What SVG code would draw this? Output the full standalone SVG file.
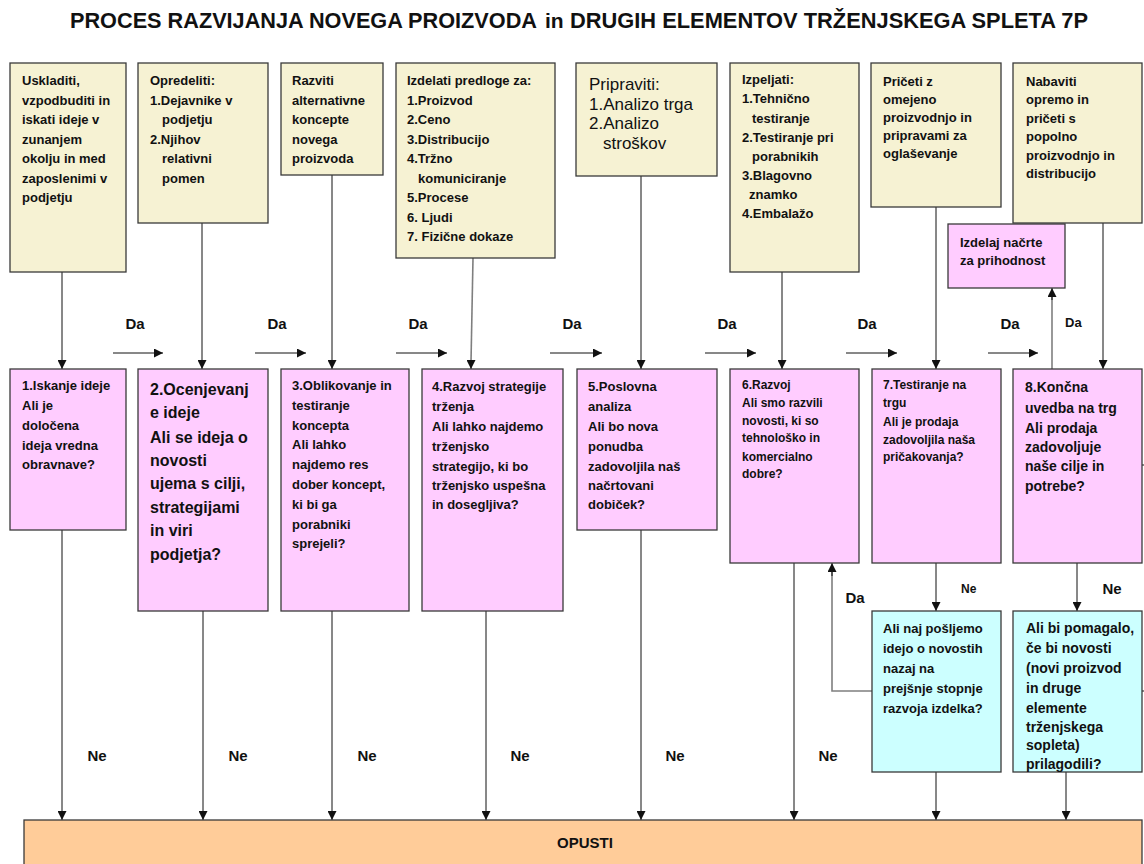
<svg xmlns="http://www.w3.org/2000/svg" width="1144" height="864" viewBox="0 0 1144 864">
<defs>
<marker id="arr" viewBox="0 0 10 10" refX="10" refY="5" markerWidth="9" markerHeight="9" markerUnits="userSpaceOnUse" orient="auto">
<path d="M0,0 L10,5 L0,10 z" fill="#111"/>
</marker>
</defs>
<style>
.top{fill:#F6F2D3;stroke:#3a3a3a;stroke-width:1.3}
.pink{fill:#FFCCFF;stroke:#3a3a3a;stroke-width:1.3}
.blue{fill:#CCFFFF;stroke:#3a3a3a;stroke-width:1.3}
.orange{fill:#FFCC99;stroke:#3a3a3a;stroke-width:1.3}
text{font-family:"Liberation Sans",Arial,Helvetica,sans-serif;font-weight:bold;fill:#111}
.s12{font-size:12px}
.s13{font-size:13px}
.s14{font-size:14px}
.s15{font-size:15px}
.s16{font-size:16px}
.s17{font-size:17px;font-weight:normal}
.lbl{font-size:15px;text-anchor:middle}
.c{stroke:#111;stroke-width:1;fill:none}
.g{stroke:#7f7f7f;stroke-width:1.6;fill:none}
</style>
<rect width="1144" height="864" fill="#ffffff"/>

<g id="title">
<text x="70" y="28" font-size="22" textLength="467" lengthAdjust="spacingAndGlyphs">PROCES RAZVIJANJA NOVEGA PROIZVODA</text>
<text x="545" y="28" font-size="21">in</text>
<text x="570" y="28" font-size="22" textLength="518" lengthAdjust="spacingAndGlyphs">DRUGIH ELEMENTOV TRŽENJSKEGA SPLETA 7P</text>
</g>

<g id="connectors">
<line class="c" x1="62" y1="272" x2="62" y2="369" marker-end="url(#arr)"/>
<line class="c" x1="202" y1="223" x2="202" y2="369" marker-end="url(#arr)"/>
<line class="c" x1="332" y1="175" x2="332" y2="369" marker-end="url(#arr)"/>
<line class="g" x1="473" y1="258" x2="471" y2="362"/>
<line class="c" x1="471" y1="360" x2="471" y2="369" marker-end="url(#arr)"/>
<line class="c" x1="641" y1="176" x2="641" y2="369" marker-end="url(#arr)"/>
<line class="c" x1="782" y1="272" x2="782" y2="369" marker-end="url(#arr)"/>
<line class="c" x1="936" y1="207" x2="936" y2="369" marker-end="url(#arr)"/>
<line class="c" x1="1103" y1="223" x2="1103" y2="369" marker-end="url(#arr)"/>
<line class="g" x1="1052" y1="369" x2="1052" y2="296"/>
<line class="c" x1="1052" y1="300" x2="1052" y2="288" marker-end="url(#arr)"/>

<line class="c" x1="113" y1="353" x2="163" y2="353" marker-end="url(#arr)"/>
<line class="c" x1="255" y1="353" x2="306" y2="353" marker-end="url(#arr)"/>
<line class="c" x1="396" y1="353" x2="447" y2="353" marker-end="url(#arr)"/>
<line class="c" x1="550" y1="353" x2="602" y2="353" marker-end="url(#arr)"/>
<line class="c" x1="705" y1="353" x2="756" y2="353" marker-end="url(#arr)"/>
<line class="c" x1="846" y1="353" x2="897" y2="353" marker-end="url(#arr)"/>
<line class="c" x1="988" y1="353" x2="1038" y2="353" marker-end="url(#arr)"/>

<line class="c" x1="62" y1="530" x2="62" y2="820" marker-end="url(#arr)"/>
<line class="c" x1="203" y1="611" x2="203" y2="820" marker-end="url(#arr)"/>
<line class="c" x1="332" y1="611" x2="332" y2="820" marker-end="url(#arr)"/>
<line class="c" x1="486" y1="611" x2="486" y2="820" marker-end="url(#arr)"/>
<line class="c" x1="641" y1="530" x2="641" y2="820" marker-end="url(#arr)"/>
<line class="c" x1="794" y1="563" x2="794" y2="820" marker-end="url(#arr)"/>
<line class="c" x1="936" y1="772" x2="936" y2="820" marker-end="url(#arr)"/>
<line class="c" x1="1066" y1="772" x2="1066" y2="820" marker-end="url(#arr)"/>

<line class="c" x1="936" y1="563" x2="936" y2="611" marker-end="url(#arr)"/>
<line class="c" x1="1077" y1="563" x2="1077" y2="611" marker-end="url(#arr)"/>

<polyline class="g" points="872,691 832,691 832,572"/>
<line class="c" x1="832" y1="576" x2="832" y2="563" marker-end="url(#arr)"/>

<line class="c" x1="1142" y1="465" x2="1144" y2="465"/>
<line class="c" x1="1142" y1="691" x2="1144" y2="691"/>
</g>

<g id="labels">
<text class="lbl" x="135" y="329">Da</text>
<text class="lbl" x="277" y="329">Da</text>
<text class="lbl" x="418" y="329">Da</text>
<text class="lbl" x="572" y="329">Da</text>
<text class="lbl" x="727" y="329">Da</text>
<text class="lbl" x="867" y="329">Da</text>
<text class="lbl" x="1010" y="329">Da</text>
<text x="1065" y="327" font-size="13" font-weight="normal">Da</text>
<text class="lbl" x="855" y="603">Da</text>
<text x="961" y="593" font-size="12">Ne</text>
<text class="lbl" x="1112" y="594">Ne</text>
<text class="lbl" x="97" y="761">Ne</text>
<text class="lbl" x="238" y="761">Ne</text>
<text class="lbl" x="367" y="761">Ne</text>
<text class="lbl" x="520" y="761">Ne</text>
<text class="lbl" x="675" y="761">Ne</text>
<text class="lbl" x="828" y="761">Ne</text>
</g>

<g id="topA">
<rect class="top" x="10" y="63" width="116" height="209"/>
<text class="s13"><tspan x="22" y="85">Uskladiti,</tspan><tspan x="22" y="104.5">vzpodbuditi in</tspan><tspan x="22" y="124">iskati ideje v</tspan><tspan x="22" y="143.5">zunanjem</tspan><tspan x="22" y="163">okolju in med</tspan><tspan x="22" y="182.5">zaposlenimi v</tspan><tspan x="22" y="202">podjetju</tspan></text>
</g>
<g id="topB">
<rect class="top" x="138" y="63" width="130" height="160"/>
<text class="s13"><tspan x="150" y="85">Opredeliti:</tspan><tspan x="150" y="104.5">1.Dejavnike v</tspan><tspan x="162" y="124">podjetju</tspan><tspan x="150" y="143.5">2.Njihov</tspan><tspan x="162" y="163">relativni</tspan><tspan x="162" y="182.5">pomen</tspan></text>
</g>
<g id="topC">
<rect class="top" x="281" y="63" width="102" height="112"/>
<text class="s13"><tspan x="292" y="85">Razviti</tspan><tspan x="292" y="104.5">alternativne</tspan><tspan x="292" y="124">koncepte</tspan><tspan x="292" y="143.5">novega</tspan><tspan x="292" y="163">proizvoda</tspan></text>
</g>
<g id="topD">
<rect class="top" x="396" y="63" width="159" height="195"/>
<text class="s13"><tspan x="407" y="85">Izdelati predloge za:</tspan><tspan x="407" y="104.5">1.Proizvod</tspan><tspan x="407" y="124">2.Ceno</tspan><tspan x="407" y="143.5">3.Distribucijo</tspan><tspan x="407" y="163">4.Tržno</tspan><tspan x="418" y="182.5">komuniciranje</tspan><tspan x="407" y="202">5.Procese</tspan><tspan x="407" y="221.5">6. Ljudi</tspan><tspan x="407" y="241">7. Fizične dokaze</tspan></text>
</g>
<g id="topE">
<rect class="top" x="576" y="63" width="141" height="113"/>
<text class="s17"><tspan x="589" y="90">Pripraviti:</tspan><tspan x="589" y="109.5">1.Analizo trga</tspan><tspan x="589" y="129">2.Analizo</tspan><tspan x="603" y="149">stroškov</tspan></text>
</g>
<g id="topF">
<rect class="top" x="730" y="63" width="129" height="209"/>
<text class="s13"><tspan x="742" y="84">Izpeljati:</tspan><tspan x="742" y="103">1.Tehnično</tspan><tspan x="752" y="122.5">testiranje</tspan><tspan x="742" y="142">2.Testiranje pri</tspan><tspan x="752" y="161">porabnikih</tspan><tspan x="742" y="180">3.Blagovno</tspan><tspan x="749" y="199">znamko</tspan><tspan x="742" y="218">4.Embalažo</tspan></text>
</g>
<g id="topG">
<rect class="top" x="871" y="63" width="130" height="144"/>
<text class="s13"><tspan x="883" y="86">Pričeti z</tspan><tspan x="883" y="104">omejeno</tspan><tspan x="883" y="122">proizvodnjo in</tspan><tspan x="883" y="140">pripravami za</tspan><tspan x="883" y="158">oglaševanje</tspan></text>
</g>
<g id="topH">
<rect class="top" x="1013" y="63" width="129" height="160"/>
<text class="s13"><tspan x="1026" y="86">Nabaviti</tspan><tspan x="1026" y="104">opremo in</tspan><tspan x="1026" y="122.5">pričeti s</tspan><tspan x="1026" y="141">popolno</tspan><tspan x="1026" y="159.5">proizvodnjo in</tspan><tspan x="1026" y="178">distribucijo</tspan></text>
</g>
<g id="plans">
<rect class="pink" x="948" y="224" width="117" height="64"/>
<text class="s13"><tspan x="960" y="247">Izdelaj načrte</tspan><tspan x="960" y="265">za prihodnost</tspan></text>
</g>

<g id="step1">
<rect class="pink" x="10" y="369" width="116" height="161"/>
<text class="s13"><tspan x="22" y="390">1.Iskanje ideje</tspan><tspan x="22" y="410">Ali je</tspan><tspan x="22" y="430">določena</tspan><tspan x="22" y="450">ideja vredna</tspan><tspan x="22" y="469">obravnave?</tspan></text>
</g>
<g id="step2">
<rect class="pink" x="138" y="369" width="130" height="242"/>
<text class="s16"><tspan x="150" y="395">2.Ocenjevanj</tspan><tspan x="150" y="418">e ideje</tspan><tspan x="150" y="443">Ali  se ideja  o</tspan><tspan x="150" y="466">novosti</tspan><tspan x="150" y="489">ujema  s cilji,</tspan><tspan x="150" y="513">strategijami</tspan><tspan x="150" y="536">in  viri</tspan><tspan x="150" y="560">podjetja?</tspan></text>
</g>
<g id="step3">
<rect class="pink" x="281" y="369" width="128" height="242"/>
<text class="s13"><tspan x="292" y="390">3.Oblikovanje in</tspan><tspan x="292" y="410">testiranje</tspan><tspan x="292" y="430">koncepta</tspan><tspan x="292" y="449">Ali lahko</tspan><tspan x="292" y="469">najdemo res</tspan><tspan x="292" y="489">dober koncept,</tspan><tspan x="292" y="509">ki bi ga</tspan><tspan x="292" y="529">porabniki</tspan><tspan x="292" y="548">sprejeli?</tspan></text>
</g>
<g id="step4">
<rect class="pink" x="422" y="369" width="141" height="242"/>
<text class="s13"><tspan x="432" y="391">4.Razvoj strategije</tspan><tspan x="432" y="411">trženja</tspan><tspan x="432" y="431">Ali lahko najdemo</tspan><tspan x="432" y="451">trženjsko</tspan><tspan x="432" y="471">strategijo, ki bo</tspan><tspan x="432" y="490">trženjsko uspešna</tspan><tspan x="432" y="509">in dosegljiva?</tspan></text>
</g>
<g id="step5">
<rect class="pink" x="577" y="369" width="140" height="161"/>
<text class="s13"><tspan x="588" y="391">5.Poslovna</tspan><tspan x="588" y="411">analiza</tspan><tspan x="588" y="431">Ali bo nova</tspan><tspan x="588" y="451">ponudba</tspan><tspan x="588" y="471">zadovoljila naš</tspan><tspan x="588" y="490">načrtovani</tspan><tspan x="588" y="509">dobiček?</tspan></text>
</g>
<g id="step6">
<rect class="pink" x="730" y="369" width="129" height="194"/>
<text class="s12"><tspan x="742" y="389">6.Razvoj</tspan><tspan x="742" y="407">Ali smo razvili</tspan><tspan x="742" y="425">novosti, ki so</tspan><tspan x="742" y="442">tehnološko in</tspan><tspan x="742" y="461">komercialno</tspan><tspan x="742" y="478">dobre?</tspan></text>
</g>
<g id="step7">
<rect class="pink" x="872" y="369" width="129" height="194"/>
<text class="s12"><tspan x="883" y="389">7.Testiranje na</tspan><tspan x="883" y="407">trgu</tspan><tspan x="883" y="426">Ali je prodaja</tspan><tspan x="883" y="444">zadovoljila naša</tspan><tspan x="883" y="461">pričakovanja?</tspan></text>
</g>
<g id="step8">
<rect class="pink" x="1013" y="369" width="129" height="194"/>
<text class="s14"><tspan x="1025" y="392">8.Končna</tspan><tspan x="1025" y="413">uvedba na trg</tspan><tspan x="1025" y="433">Ali prodaja</tspan><tspan x="1025" y="452">zadovoljuje</tspan><tspan x="1025" y="471">naše cilje in</tspan><tspan x="1025" y="491">potrebe?</tspan></text>
</g>

<g id="ask7">
<rect class="blue" x="872" y="611" width="129" height="161"/>
<text class="s13"><tspan x="883" y="633">Ali naj pošljemo</tspan><tspan x="883" y="653">idejo o novostih</tspan><tspan x="883" y="673">nazaj na</tspan><tspan x="883" y="693">prejšnje stopnje</tspan><tspan x="883" y="713">razvoja izdelka?</tspan></text>
</g>
<g id="ask8">
<rect class="blue" x="1013" y="611" width="129" height="161"/>
<text class="s14"><tspan x="1026" y="633">Ali bi pomagalo,</tspan><tspan x="1026" y="653">če bi novosti</tspan><tspan x="1026" y="673">(novi proizvod</tspan><tspan x="1026" y="693">in druge</tspan><tspan x="1026" y="713">elemente</tspan><tspan x="1026" y="732">trženjskega</tspan><tspan x="1026" y="750">sopleta)</tspan><tspan x="1026" y="769">prilagodili?</tspan></text>
</g>

<g id="opusti">
<rect class="orange" x="24" y="820" width="1118" height="50"/>
<text class="s15" x="585" y="848" text-anchor="middle">OPUSTI</text>
</g>
</svg>
